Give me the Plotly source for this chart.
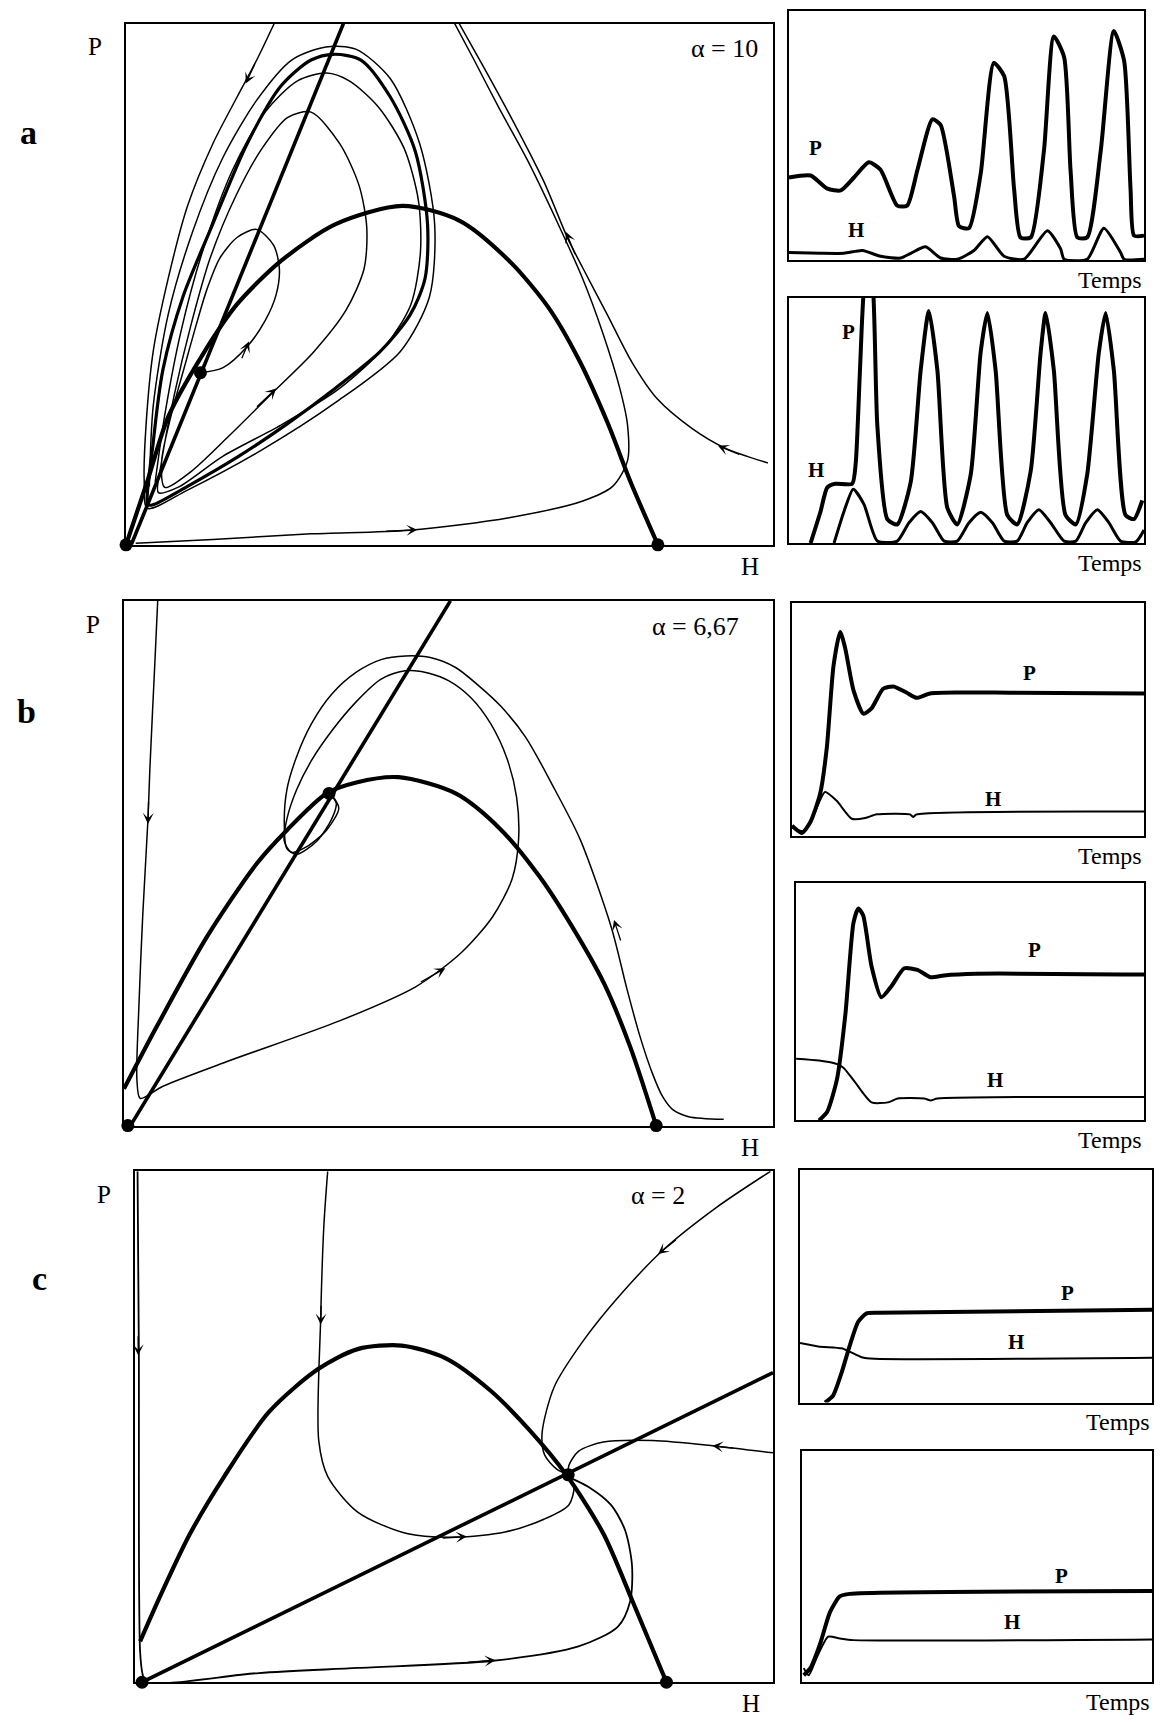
import plotly.graph_objects as go

# ---------------- Panel a (alpha = 10) : phase plane, normalised H / P ----------------
A_PREY_H = [0.0, 0.034, 0.065, 0.118, 0.172, 0.240, 0.324, 0.427, 0.515, 0.592, 0.653, 0.700, 0.744, 0.780, 0.822]
A_PREY_P = [0.0, 0.126, 0.245, 0.364, 0.462, 0.545, 0.615, 0.650, 0.622, 0.545, 0.455, 0.355, 0.235, 0.120, 0.0]
A_PRED_H = [0.008, 0.336]
A_PRED_P = [0.0, 1.0]
A_EQ_H = [0.0, 0.115, 0.822]
A_EQ_P = [0.0, 0.33, 0.0]
A_CYCLE_H = [0.034, 0.042, 0.057, 0.088, 0.134, 0.187, 0.240, 0.286, 0.321, 0.363, 0.408, 0.447, 0.466, 0.462,
             0.439, 0.393, 0.324, 0.248, 0.172, 0.095, 0.042, 0.034]
A_CYCLE_P = [0.077, 0.196, 0.336, 0.476, 0.615, 0.769, 0.881, 0.930, 0.941, 0.930, 0.860, 0.755, 0.615, 0.510,
             0.441, 0.371, 0.301, 0.231, 0.168, 0.112, 0.077, 0.077]
A_TOP_H = [0.229, 0.202, 0.172, 0.134, 0.095, 0.065, 0.042, 0.031, 0.028, 0.033, 0.095, 0.210, 0.324, 0.424,
           0.469, 0.477, 0.454, 0.408, 0.355, 0.309, 0.256, 0.202, 0.149, 0.103, 0.065, 0.042, 0.036]
A_TOP_P = [1.0, 0.930, 0.860, 0.769, 0.650, 0.510, 0.371, 0.231, 0.126, 0.070, 0.105, 0.182, 0.273, 0.371,
           0.476, 0.615, 0.769, 0.895, 0.951, 0.955, 0.930, 0.853, 0.741, 0.601, 0.441, 0.266, 0.112]
A_SPIRAL_H = [0.115, 0.150, 0.187, 0.215, 0.232, 0.237, 0.228, 0.202, 0.172, 0.145, 0.125, 0.108, 0.090, 0.070,
              0.055, 0.060, 0.100, 0.160, 0.225, 0.290, 0.340, 0.368, 0.372, 0.360, 0.330, 0.286, 0.250, 0.210,
              0.170, 0.130, 0.100, 0.075, 0.055, 0.050, 0.080, 0.150, 0.240, 0.330, 0.400, 0.440, 0.455, 0.452,
              0.430, 0.390, 0.345, 0.310, 0.265, 0.215, 0.165, 0.120, 0.085, 0.060, 0.045]
A_SPIRAL_P = [0.330, 0.340, 0.380, 0.430, 0.480, 0.530, 0.575, 0.605, 0.590, 0.550, 0.490, 0.420, 0.340, 0.250,
              0.160, 0.110, 0.140, 0.210, 0.290, 0.370, 0.450, 0.530, 0.610, 0.690, 0.770, 0.830, 0.820, 0.760,
              0.670, 0.550, 0.420, 0.290, 0.160, 0.100, 0.110, 0.170, 0.230, 0.300, 0.380, 0.460, 0.560, 0.660,
              0.760, 0.840, 0.890, 0.905, 0.890, 0.830, 0.720, 0.570, 0.410, 0.250, 0.120]
A_BOTTOM_H = [0.015, 0.134, 0.286, 0.439, 0.592, 0.706, 0.752, 0.775, 0.775, 0.763, 0.737, 0.706, 0.668, 0.622,
              0.576, 0.538, 0.508]
A_BOTTOM_P = [0.003, 0.010, 0.021, 0.028, 0.052, 0.084, 0.112, 0.161, 0.231, 0.301, 0.406, 0.510, 0.615, 0.734,
              0.839, 0.930, 1.0]
A_RIGHT_H = [0.992, 0.927, 0.874, 0.821, 0.782, 0.744, 0.706, 0.683, 0.645, 0.599, 0.553, 0.515]
A_RIGHT_P = [0.157, 0.185, 0.224, 0.280, 0.350, 0.441, 0.531, 0.587, 0.699, 0.811, 0.916, 1.0]
# arrows: (head H, head P, tail H, tail P)
A_ARROWS = [(0.185, 0.885, 0.200, 0.925), (0.450, 0.029, 0.400, 0.026), (0.680, 0.600, 0.695, 0.555),
            (0.915, 0.190, 0.950, 0.172), (0.190, 0.390, 0.178, 0.355), (0.232, 0.300, 0.200, 0.262)]

# ---------------- Panel b (alpha = 6,67) ----------------
B_PREY_H = [0.0, 0.052, 0.128, 0.205, 0.251, 0.312, 0.358, 0.423, 0.511, 0.580, 0.640, 0.690, 0.740, 0.780, 0.820]
B_PREY_P = [0.07, 0.192, 0.360, 0.500, 0.563, 0.633, 0.654, 0.664, 0.633, 0.565, 0.475, 0.380, 0.270, 0.150, 0.0]
B_PRED_H = [0.010, 0.503]
B_PRED_P = [0.0, 1.0]
B_EQ_H = [0.006, 0.316, 0.820]
B_EQ_P = [0.0, 0.633, 0.0]
B_LEFT_H = [0.052, 0.048, 0.040, 0.037, 0.029, 0.023, 0.020, 0.025, 0.060, 0.161, 0.331, 0.450, 0.520, 0.568,
            0.598, 0.608, 0.605, 0.590, 0.565, 0.535, 0.500, 0.470, 0.448, 0.425, 0.395, 0.358, 0.320, 0.289,
            0.266, 0.251, 0.247, 0.258, 0.281, 0.312, 0.331, 0.320]
B_LEFT_P = [1.0, 0.892, 0.682, 0.584, 0.402, 0.227, 0.087, 0.052, 0.075, 0.123, 0.199, 0.265, 0.330, 0.398,
            0.470, 0.545, 0.625, 0.700, 0.766, 0.815, 0.848, 0.862, 0.867, 0.865, 0.850, 0.808, 0.752, 0.696,
            0.640, 0.584, 0.542, 0.521, 0.531, 0.563, 0.605, 0.630]
B_RIGHT_H = [0.924, 0.870, 0.845, 0.830, 0.814, 0.795, 0.775, 0.751, 0.703, 0.664, 0.619, 0.580, 0.545, 0.511,
             0.472, 0.434, 0.396, 0.358, 0.320, 0.289, 0.266, 0.251, 0.247, 0.251, 0.266, 0.297, 0.320, 0.327, 0.316]
B_RIGHT_P = [0.012, 0.017, 0.031, 0.055, 0.100, 0.170, 0.260, 0.377, 0.545, 0.640, 0.740, 0.800, 0.840, 0.873,
             0.892, 0.895, 0.888, 0.864, 0.822, 0.766, 0.703, 0.640, 0.577, 0.528, 0.517, 0.542, 0.584, 0.615, 0.633]
B_ARROWS = [(0.037, 0.575, 0.038, 0.620), (0.495, 0.300, 0.455, 0.272), (0.755, 0.392, 0.766, 0.350)]

# ---------------- Panel c (alpha = 2) ----------------
C_PREY_H = [0.008, 0.040, 0.086, 0.140, 0.210, 0.287, 0.349, 0.418, 0.487, 0.557, 0.618, 0.676, 0.734, 0.780, 0.833]
C_PREY_P = [0.080, 0.170, 0.290, 0.403, 0.529, 0.613, 0.652, 0.659, 0.634, 0.571, 0.494, 0.406, 0.291, 0.158, 0.0]
C_PRED_H = [0.011, 1.0]
C_PRED_P = [0.0, 0.606]
C_EQ_H = [0.011, 0.679, 0.833]
C_EQ_P = [0.0, 0.406, 0.0]
C_LEFT_H = [0.004, 0.006, 0.008, 0.012, 0.017, 0.194, 0.349, 0.561, 0.695, 0.757, 0.776, 0.779, 0.768, 0.746,
            0.711, 0.684]
C_LEFT_P = [1.0, 0.655, 0.060, 0.015, 0.0, 0.018, 0.028, 0.042, 0.070, 0.109, 0.158, 0.228, 0.298, 0.347,
            0.382, 0.399]
C_MID_H = [0.302, 0.296, 0.291, 0.288, 0.302, 0.349, 0.426, 0.503, 0.580, 0.641, 0.680, 0.688, 0.680]
C_MID_P = [1.0, 0.893, 0.711, 0.473, 0.403, 0.333, 0.291, 0.284, 0.294, 0.319, 0.347, 0.382, 0.403]
C_TR_H = [0.996, 0.911, 0.826, 0.757, 0.703, 0.657, 0.638, 0.642, 0.661, 0.679]
C_TR_P = [1.0, 0.929, 0.844, 0.753, 0.669, 0.578, 0.487, 0.445, 0.417, 0.406]
C_R_H = [1.0, 0.911, 0.811, 0.734, 0.695, 0.680, 0.679]
C_R_P = [0.449, 0.462, 0.473, 0.470, 0.452, 0.424, 0.406]
C_ARROWS = [(0.005, 0.640, 0.005, 0.680), (0.291, 0.700, 0.292, 0.740), (0.820, 0.838, 0.850, 0.868),
            (0.905, 0.463, 0.940, 0.458), (0.520, 0.285, 0.480, 0.282), (0.565, 0.043, 0.520, 0.039)]

# ---------------- Time series (Temps, normalised) ----------------
TA1_T_P = [0, 0.061, 0.108, 0.146, 0.183, 0.225, 0.258, 0.305, 0.333, 0.362, 0.404, 0.427, 0.465, 0.479, 0.507,
           0.540, 0.577, 0.606, 0.634, 0.652, 0.681, 0.718, 0.746, 0.775, 0.793, 0.812, 0.840, 0.878, 0.915,
           0.944, 0.962, 0.972, 1.0]
TA1_P = [0.332, 0.340, 0.287, 0.280, 0.332, 0.393, 0.363, 0.219, 0.219, 0.363, 0.566, 0.544, 0.257, 0.136, 0.128,
         0.347, 0.793, 0.740, 0.287, 0.091, 0.091, 0.438, 0.899, 0.816, 0.363, 0.091, 0.091, 0.438, 0.921,
         0.801, 0.287, 0.098, 0.098]
TA1_T_H = [0, 0.089, 0.155, 0.207, 0.258, 0.315, 0.343, 0.385, 0.427, 0.474, 0.521, 0.559, 0.606, 0.662, 0.728,
           0.765, 0.775, 0.840, 0.887, 0.934, 0.944, 1.0]
TA1_H = [0.030, 0.027, 0.027, 0.038, 0.015, 0.008, 0.027, 0.053, 0.008, 0.003, 0.038, 0.094, 0.015, 0.003, 0.118,
         0.045, 0.003, 0.003, 0.128, 0.030, 0.003, 0.003]

TA2_T_P = [0.061, 0.089, 0.108, 0.131, 0.178, 0.188, 0.200, 0.212, 0.224, 0.236, 0.249, 0.277, 0.305, 0.343,
           0.371, 0.394, 0.418, 0.446, 0.474, 0.512, 0.540, 0.559, 0.582, 0.615, 0.643, 0.681, 0.709, 0.723,
           0.746, 0.779, 0.808, 0.840, 0.873, 0.892, 0.915, 0.948, 0.972, 0.995]
TA2_P = [0.0, 0.129, 0.227, 0.242, 0.242, 0.326, 0.705, 1.05, 1.12, 1.05, 0.477, 0.098, 0.076, 0.250,
         0.705, 0.947, 0.705, 0.144, 0.076, 0.280, 0.780, 0.939, 0.705, 0.114, 0.076, 0.295, 0.780, 0.939,
         0.705, 0.114, 0.076, 0.280, 0.780, 0.939, 0.705, 0.114, 0.098, 0.174]
TA2_T_H = [0.127, 0.155, 0.181, 0.211, 0.249, 0.305, 0.338, 0.371, 0.404, 0.437, 0.474, 0.507, 0.540, 0.573,
           0.606, 0.643, 0.671, 0.704, 0.737, 0.775, 0.808, 0.836, 0.869, 0.901, 0.934, 0.977, 1.0]
TA2_H = [0.0, 0.129, 0.220, 0.159, 0.008, 0.008, 0.083, 0.129, 0.083, 0.008, 0.008, 0.083, 0.126, 0.083,
         0.008, 0.008, 0.083, 0.136, 0.083, 0.008, 0.008, 0.083, 0.136, 0.083, 0.008, 0.005, 0.053]

TB1_T_P = [0, 0.028, 0.052, 0.080, 0.099, 0.118, 0.137, 0.151, 0.175, 0.203, 0.226, 0.259, 0.288, 0.325, 0.354,
           0.392, 0.476, 0.618, 1.0]
TB1_P = [0.046, 0.015, 0.061, 0.183, 0.382, 0.733, 0.878, 0.809, 0.626, 0.527, 0.550, 0.634, 0.644, 0.618,
         0.595, 0.614, 0.618, 0.617, 0.614]
TB1_T_H = [0, 0.033, 0.061, 0.094, 0.127, 0.170, 0.208, 0.241, 0.335, 0.344, 0.354, 1.0]
TB1_H = [0.038, 0.023, 0.092, 0.191, 0.153, 0.076, 0.079, 0.095, 0.095, 0.084, 0.095, 0.107]

TB2_T_P = [0.066, 0.090, 0.118, 0.142, 0.165, 0.179, 0.193, 0.217, 0.245, 0.274, 0.311, 0.349, 0.387, 0.425,
           0.519, 1.0]
TB2_P = [0.0, 0.038, 0.176, 0.450, 0.832, 0.893, 0.863, 0.649, 0.519, 0.565, 0.641, 0.634, 0.603, 0.611,
         0.618, 0.615]
TB2_T_H = [0, 0.066, 0.118, 0.137, 0.170, 0.217, 0.264, 0.292, 0.368, 0.387, 0.406, 1.0]
TB2_H = [0.260, 0.252, 0.237, 0.221, 0.160, 0.076, 0.076, 0.092, 0.092, 0.084, 0.092, 0.099]

TC1_T_P = [0.071, 0.094, 0.118, 0.142, 0.165, 0.189, 0.222, 1.0]
TC1_P = [0.0, 0.030, 0.128, 0.248, 0.346, 0.383, 0.386, 0.398]
TC1_T_H = [0, 0.052, 0.118, 0.142, 0.175, 0.212, 1.0]
TC1_H = [0.256, 0.241, 0.233, 0.218, 0.195, 0.188, 0.192]

TC2_T_P = [0.005, 0.024, 0.052, 0.080, 0.108, 0.137, 1.0]
TC2_P = [0.030, 0.061, 0.167, 0.303, 0.371, 0.382, 0.394]
TC2_T_H = [0.005, 0.019, 0.042, 0.075, 0.108, 0.146, 1.0]
TC2_H = [0.061, 0.030, 0.106, 0.197, 0.189, 0.182, 0.185]

PANEL_LETTERS = ["a", "b", "c"]
ALPHA_LABELS = ["α = 10", "α = 6,67", "α = 2"]

SERIF = "Liberation Serif"
fig = go.Figure()


def line(n, xs, ys, w, shape="spline", smooth=0.8):
    ax = "" if n == 1 else str(n)
    fig.add_trace(go.Scatter(x=xs, y=ys, mode="lines", xaxis="x" + ax, yaxis="y" + ax,
                             line=dict(color="black", width=w, shape=shape, smoothing=smooth),
                             hoverinfo="skip", showlegend=False))


def dots(n, xs, ys):
    ax = "" if n == 1 else str(n)
    fig.add_trace(go.Scatter(x=xs, y=ys, mode="markers", xaxis="x" + ax, yaxis="y" + ax,
                             marker=dict(color="black", size=13), cliponaxis=False,
                             hoverinfo="skip", showlegend=False))


annotations = []


def arrows(n, lst):
    ax = "" if n == 1 else str(n)
    for hx, hy, tx, ty in lst:
        annotations.append(dict(x=hx, y=hy, ax=tx, ay=ty, xref="x" + ax, yref="y" + ax,
                                axref="x" + ax, ayref="y" + ax, showarrow=True, arrowhead=3,
                                arrowsize=1.4, arrowwidth=1.3, arrowcolor="black", standoff=0,
                                text=""))


def label(n, x, y, text, size, bold=False, xanchor="center", yanchor="middle"):
    ax = "" if n == 1 else str(n)
    t = "<b>" + text + "</b>" if bold else text
    annotations.append(dict(x=x, y=y, xref="x" + ax + " domain", yref="y" + ax + " domain",
                            text=t, showarrow=False, xanchor=xanchor, yanchor=yanchor,
                            font=dict(family=SERIF, size=size, color="black")))


# Panel a -> axis 1
line(1, A_CYCLE_H, A_CYCLE_P, 3.2)
line(1, A_TOP_H, A_TOP_P, 1.5)
line(1, A_SPIRAL_H, A_SPIRAL_P, 1.5)
line(1, A_BOTTOM_H, A_BOTTOM_P, 1.5)
line(1, A_RIGHT_H, A_RIGHT_P, 1.5)
line(1, A_PREY_H, A_PREY_P, 4.2)
line(1, A_PRED_H, A_PRED_P, 3.6, shape="linear")
dots(1, A_EQ_H, A_EQ_P)
arrows(1, A_ARROWS)

# Panel b -> axis 2
line(2, B_LEFT_H, B_LEFT_P, 1.5)
line(2, B_RIGHT_H, B_RIGHT_P, 1.5)
line(2, B_PREY_H, B_PREY_P, 4.2)
line(2, B_PRED_H, B_PRED_P, 3.6, shape="linear")
dots(2, B_EQ_H, B_EQ_P)
arrows(2, B_ARROWS)

# Panel c -> axis 3
line(3, C_LEFT_H, C_LEFT_P, 1.8)
line(3, C_MID_H, C_MID_P, 1.5)
line(3, C_TR_H, C_TR_P, 1.5)
line(3, C_R_H, C_R_P, 1.5)
line(3, C_PREY_H, C_PREY_P, 4.2)
line(3, C_PRED_H, C_PRED_P, 3.6, shape="linear")
dots(3, C_EQ_H, C_EQ_P)
arrows(3, C_ARROWS)

# Time series -> axes 4..9
TS = [(4, TA1_T_P, TA1_P, TA1_T_H, TA1_H, 3.0, (0.075, 0.45), (0.188, 0.12)),
      (5, TA2_T_P, TA2_P, TA2_T_H, TA2_H, 3.0, (0.169, 0.86), (0.075, 0.30)),
      (6, TB1_T_P, TB1_P, TB1_T_H, TB1_H, 2.0, (0.675, 0.70), (0.571, 0.16)),
      (7, TB2_T_P, TB2_P, TB2_T_H, TB2_H, 2.0, (0.684, 0.72), (0.571, 0.17)),
      (8, TC1_T_P, TC1_P, TC1_T_H, TC1_H, 2.0, (0.759, 0.47), (0.613, 0.26)),
      (9, TC2_T_P, TC2_P, TC2_T_H, TC2_H, 2.0, (0.741, 0.46), (0.599, 0.26))]
for n, tp, p, th, h, hw, plab, hlab in TS:
    line(n, th, h, hw, smooth=0.6)
    line(n, tp, p, 4.0, smooth=0.6)
    label(n, plab[0], plab[1], "P", 21, bold=True)
    label(n, hlab[0], hlab[1], "H", 21, bold=True)
    label(n, 1.0, -0.02, "Temps", 24, xanchor="right", yanchor="top")

# Phase-plane labels
for n, letter, alpha, axpos in [(1, "a", ALPHA_LABELS[0], 0.925), (2, "b", ALPHA_LABELS[1], 0.88),
                                (3, "c", ALPHA_LABELS[2], 0.82)]:
    label(n, -0.048, 0.955, "P", 25)
    label(n, 0.965, -0.012, "H", 25, yanchor="top")
    label(n, -0.15, 0.79, letter, 34, bold=True)
    label(n, axpos, 0.952, alpha, 26)

DOMAINS = {
    1: ([0.1015, 0.6578], [0.6890, 0.9910]),
    2: ([0.0997, 0.6578], [0.3525, 0.6565]),
    3: ([0.1092, 0.6578], [0.0300, 0.3260]),
    4: ([0.6715, 0.9768], [0.8540, 0.9980]),
    5: ([0.6715, 0.9768], [0.6900, 0.8320]),
    6: ([0.6741, 0.9768], [0.5200, 0.6550]),
    7: ([0.6776, 0.9768], [0.3555, 0.4930]),
    8: ([0.6810, 0.9837], [0.1920, 0.3270]),
    9: ([0.6827, 0.9837], [0.0300, 0.1640]),
}

layout = dict(width=1163, height=1726, margin=dict(l=0, r=0, t=0, b=0),
              paper_bgcolor="white", plot_bgcolor="white", showlegend=False,
              annotations=annotations)
for n, (dx, dy) in DOMAINS.items():
    s = "" if n == 1 else str(n)
    common = dict(range=[0, 1], showgrid=False, zeroline=False, showticklabels=False, ticks="",
                  showline=True, linecolor="black", linewidth=2, mirror=True, fixedrange=True)
    layout["xaxis" + s] = dict(domain=dx, anchor="y" + s, **common)
    layout["yaxis" + s] = dict(domain=dy, anchor="x" + s, **common)

fig.update_layout(**layout)
fig.write_html("out.html")
